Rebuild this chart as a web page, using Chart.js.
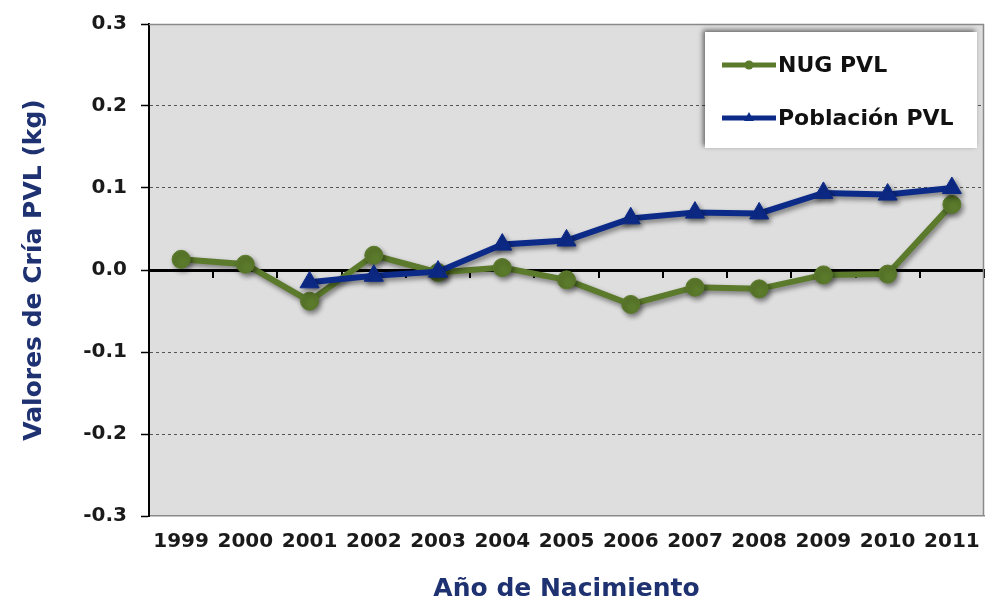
<!DOCTYPE html>
<html>
<head>
<meta charset="utf-8">
<script src="https://cdn.jsdelivr.net/npm/chart.js@4/dist/chart.umd.min.js"></script>
<style>
  html, body { margin: 0; padding: 0; background: #ffffff; }
  #wrap { width: 986px; height: 607px; }
</style>
</head>
<body>
<div id="wrap"><canvas id="c" width="986" height="607"></canvas></div>
<script>
const years = ['1999','2000','2001','2002','2003','2004','2005','2006','2007','2008','2009','2010','2011'];
const nugPVL = [0.013, 0.007, -0.038, 0.018, -0.003, 0.003, -0.012, -0.042, -0.021, -0.023, -0.006, -0.005, 0.080];
const poblacionPVL = [null, null, -0.015, -0.007, -0.002, 0.031, 0.036, 0.063, 0.070, 0.069, 0.094, 0.092, 0.100];
const seriesNames = ['NUG PVL', 'Población PVL'];
const yTicks = [-0.3, -0.2, -0.1, 0.0, 0.1, 0.2, 0.3];
const xTitle = 'Año de Nacimiento';
const yTitle = 'Valores de Cría PVL (kg)';

const GREEN = '#5b7a2b';
const BLUE = '#0c2a88';
const TITLE_COLOR = '#1e3170';
const FONT = '"DejaVu Sans", Verdana, sans-serif';

const plotDecor = {
  id: 'plotDecor',
  beforeDraw(chart) {
    const {ctx, chartArea: a} = chart;
    ctx.save();
    ctx.fillStyle = '#dedede';
    ctx.fillRect(a.left, a.top, a.right - a.left, a.bottom - a.top);
    ctx.restore();
  },
  beforeDatasetsDraw(chart) {
    const {ctx, chartArea: a} = chart;
    ctx.save();
    ctx.strokeStyle = '#8a8a8a';
    ctx.lineWidth = 1.5;
    ctx.beginPath();
    ctx.moveTo(a.left, a.top + 0.5);
    ctx.lineTo(a.right - 0.5, a.top + 0.5);
    ctx.lineTo(a.right - 0.5, a.bottom);
    ctx.stroke();
    ctx.restore();
  },
  beforeDatasetDraw(chart) {
    const ctx = chart.ctx;
    ctx.save();
    ctx.shadowColor = 'rgba(0,0,0,0.45)';
    ctx.shadowBlur = 5;
    ctx.shadowOffsetX = 2;
    ctx.shadowOffsetY = 3;
  },
  afterDatasetDraw(chart) {
    chart.ctx.restore();
  },
  afterDraw(chart) {
    const ctx = chart.ctx;
    const bx = 705, by = 32, bw = 272, bh = 116;
    ctx.save();
    ctx.shadowColor = 'rgba(0,0,0,0.55)';
    ctx.shadowBlur = 5;
    ctx.shadowOffsetX = -2;
    ctx.shadowOffsetY = -2;
    ctx.fillStyle = '#ffffff';
    ctx.fillRect(bx, by, bw, bh);
    ctx.restore();
    const rows = [65, 118];
    chart.data.datasets.forEach((ds, i) => {
      const y = rows[i];
      ctx.save();
      ctx.strokeStyle = ds.borderColor;
      ctx.lineWidth = 5;
      ctx.beginPath();
      ctx.moveTo(722, y);
      ctx.lineTo(776, y);
      ctx.stroke();
      ctx.fillStyle = ds.borderColor;
      ctx.beginPath();
      if (ds.pointStyle === 'triangle') {
        ctx.moveTo(749, y - 6);
        ctx.lineTo(754, y + 3);
        ctx.lineTo(744, y + 3);
        ctx.closePath();
      } else {
        ctx.arc(749, y, 4.5, 0, Math.PI * 2);
      }
      ctx.fill();
      ctx.fillStyle = '#111111';
      ctx.font = 'bold 22px ' + FONT;
      ctx.textBaseline = 'middle';
      ctx.textAlign = 'left';
      ctx.fillText(ds.label, 778, y + 1);
      ctx.restore();
    });
  }
};

new Chart(document.getElementById('c'), {
  type: 'line',
  data: {
    labels: years,
    datasets: [
      {
        label: seriesNames[0],
        data: nugPVL,
        borderColor: GREEN,
        backgroundColor: GREEN,
        borderWidth: 6,
        pointStyle: 'circle',
        pointRadius: 9,
        pointHoverRadius: 9,
        pointBackgroundColor: GREEN,
        pointBorderColor: GREEN,
        pointBorderWidth: 1,
        tension: 0,
        order: 1
      },
      {
        label: seriesNames[1],
        data: poblacionPVL,
        borderColor: BLUE,
        backgroundColor: BLUE,
        borderWidth: 6,
        pointStyle: 'triangle',
        pointRadius: 11,
        pointHoverRadius: 11,
        pointBackgroundColor: BLUE,
        pointBorderColor: BLUE,
        pointBorderWidth: 1,
        tension: 0,
        order: 0
      }
    ]
  },
  options: {
    responsive: false,
    devicePixelRatio: 1,
    animation: false,
    events: [],
    layout: { autoPadding: false, padding: { left: 0, right: 2, top: 24, bottom: 0 } },
    plugins: {
      legend: { display: false },
      tooltip: { enabled: false }
    },
    scales: {
      x: {
        type: 'category',
        position: 'bottom',
        offset: true,
        grid: { display: false, drawTicks: false },
        border: { display: true, color: '#8a8a8a', width: 1.5 },
        ticks: {
          color: '#1a1a1a',
          font: { family: FONT, weight: 'bold', size: 20 },
          padding: 14,
          maxRotation: 0,
          autoSkip: false
        },
        title: {
          display: true,
          text: xTitle,
          color: TITLE_COLOR,
          font: { family: FONT, weight: 'bold', size: 25 },
          padding: { top: 0, bottom: 3 }
        },
        afterFit(scale) { scale.height = 91; scale.paddingLeft = 0; scale.paddingRight = 0; }
      },
      x2: {
        type: 'category',
        position: { y: 0 },
        labels: years,
        offset: true,
        grid: { drawOnChartArea: false, drawTicks: true, tickLength: 6, color: '#000000', lineWidth: 2, offset: true },
        border: { display: true, color: '#000000', width: 3 },
        ticks: { display: false }
      },
      y: {
        type: 'linear',
        min: -0.3,
        max: 0.3,
        afterBuildTicks(scale) { scale.ticks = yTicks.map(v => ({ value: v })); },
        grid: {
          drawTicks: true,
          tickLength: 8,
          tickColor: '#000000',
          tickWidth: 1.5,
          lineWidth: 1,
          color(ctx) {
            const v = ctx.tick ? Math.round(ctx.tick.value * 10) : 0;
            return (v === 0 || v === 3 || v === -3) ? 'rgba(0,0,0,0)' : '#555555';
          }
        },
        border: { display: true, color: '#000000', width: 2, dash: [3, 3] },
        ticks: {
          color: '#1a1a1a',
          font: { family: FONT, weight: 'bold', size: 20 },
          padding: 14,
          callback(value) { return Number(value).toFixed(1); }
        },
        title: {
          display: true,
          text: yTitle,
          color: TITLE_COLOR,
          font: { family: FONT, weight: 'bold', size: 25 },
          padding: { top: 19, bottom: 0 }
        },
        afterFit(scale) { scale.width = 149; scale.paddingTop = 0; scale.paddingBottom = 0; }
      }
    }
  },
  plugins: [plotDecor]
});
</script>
</body>
</html>
